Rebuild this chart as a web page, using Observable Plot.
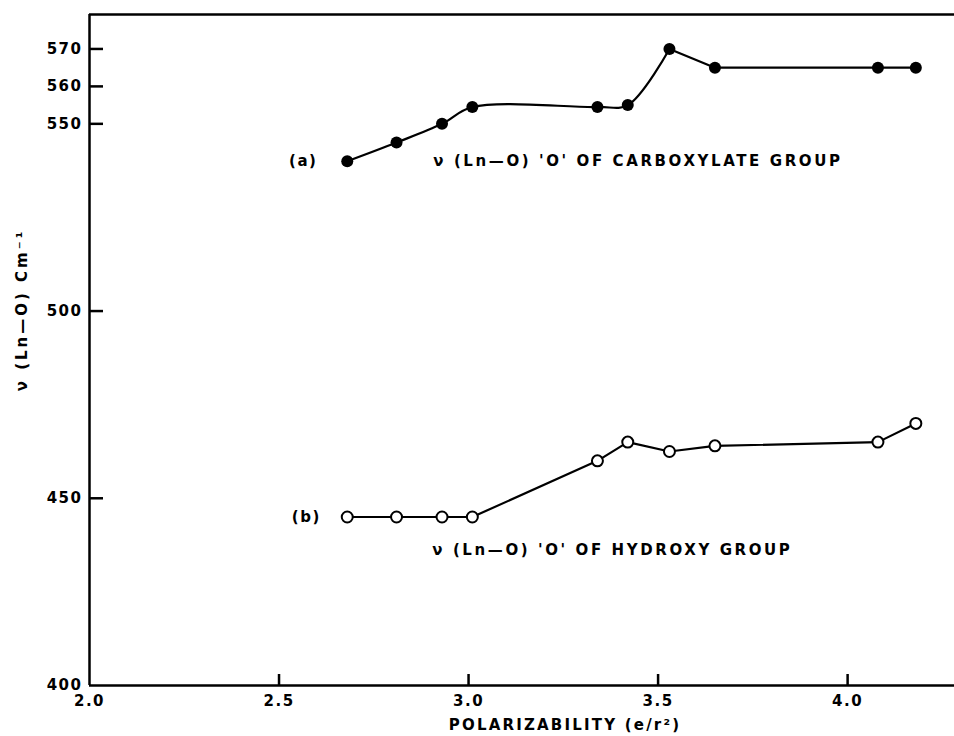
<!DOCTYPE html>
<html><head><meta charset="utf-8">
<script src="https://cdn.jsdelivr.net/npm/d3@7"></script>
<script src="https://cdn.jsdelivr.net/npm/@observablehq/plot@0.6"></script>
<style>
body{margin:0;background:#fff}
#chart svg{display:block;background:#fff}
#chart svg text{letter-spacing:1.5px}
</style>
</head><body><div id="chart"></div>
<script>
// Data
const polarizability = [2.68, 2.81, 2.93, 3.01, 3.34, 3.42, 3.53, 3.65, 4.08, 4.18];
const carboxylate = [540, 545, 550, 554.5, 554.5, 555, 570, 565, 565, 565];
const hydroxy = [445, 445, 445, 445, 460, 465, 462.5, 464, 465, 470];
const xTicks = [2.0, 2.5, 3.0, 3.5, 4.0];
const yTicks = [400, 450, 500, 550, 560, 570];
const xDomain = [2.0, 4.282];
const yDomain = [400, 579.2];
const seriesLabels = ["(a)", "(b)"];
const seriesTitles = ["ν (Ln—O) 'O' OF CARBOXYLATE GROUP", "ν (Ln—O) 'O' OF HYDROXY GROUP"];
const xLabel = "POLARIZABILITY (e/r²)";
const yLabel = "ν (Ln—O) Cm⁻¹";

const a = polarizability.map((x, i) => ({x, y: carboxylate[i]}));
const b = polarizability.map((x, i) => ({x, y: hydroxy[i]}));
const ink = "black";

const W = 954, H = 736, ML = 89, MR = 0, MT = 14, MB = 51;

const plot = Plot.plot({
  width: W, height: H,
  marginLeft: ML, marginRight: MR, marginTop: MT, marginBottom: MB,
  style: {fontFamily: "DejaVu Sans", fontWeight: "bold", fontSize: "15px"},
  x: {domain: xDomain},
  y: {domain: yDomain},
  marks: [
    Plot.ruleY([yDomain[1]], {stroke: ink, strokeWidth: 2.5}),
    Plot.ruleY([yDomain[0]], {stroke: ink, strokeWidth: 2.5}),
    Plot.ruleX([xDomain[0]], {stroke: ink, strokeWidth: 2.5}),
    // inward tick marks
    Plot.axisX({ticks: xTicks.slice(1), anchor: "top", frameAnchor: "bottom", tickSize: 12, tickFormat: () => "", label: null, strokeWidth: 2.5, stroke: ink}),
    Plot.axisY({ticks: yTicks.slice(1), anchor: "right", frameAnchor: "left", tickSize: 13, tickFormat: () => "", label: null, strokeWidth: 2.5, stroke: ink}),
    // tick labels
    Plot.axisX({ticks: xTicks, tickFormat: d3.format(".1f"), tickSize: 0, tickPadding: 10, label: null, fontSize: 15}),
    Plot.axisY({ticks: yTicks, tickSize: 0, tickPadding: 7, label: null, fontSize: 15}),
    Plot.line(a.slice(0, 7), {x: "x", y: "y", curve: "catmull-rom", stroke: ink, strokeWidth: 2.2}),
    Plot.line(a.slice(6), {x: "x", y: "y", stroke: ink, strokeWidth: 2.2}),
    Plot.dot(a, {x: "x", y: "y", r: 6, fill: ink}),
    Plot.line(b, {x: "x", y: "y", stroke: ink, strokeWidth: 2.2}),
    Plot.dot(b, {x: "x", y: "y", r: 5.5, fill: "white", stroke: ink, strokeWidth: 2}),
    Plot.text([a[0]], {x: "x", y: "y", text: () => seriesLabels[0], dx: -44, fontSize: 15}),
    Plot.text([b[0]], {x: "x", y: "y", text: () => seriesLabels[1], dx: -41, fontSize: 15}),
    Plot.text([a[0]], {x: "x", y: "y", text: () => seriesTitles[0], dx: 86, textAnchor: "start", fontSize: 15}),
    Plot.text([b[0]], {x: "x", y: "y", text: () => seriesTitles[1], dx: 85, dy: 33, textAnchor: "start", fontSize: 15}),
    Plot.text([xLabel], {text: d => d, frameAnchor: "bottom", lineAnchor: "middle", dx: 43, dy: 40, fontSize: 15}),
    Plot.text([yLabel], {text: d => d, frameAnchor: "left", textAnchor: "middle", rotate: -90, dx: -67, dy: -40, fontSize: 15})
  ]
});
document.getElementById("chart").append(plot);
const sel = d3.select(plot).selectAll("text");
sel.filter(function () { return seriesTitles.includes(this.textContent); }).style("letter-spacing", "2.6px");
sel.filter(function () { return this.textContent === xLabel; }).style("letter-spacing", "2.2px");
sel.filter(function () { return this.textContent === yLabel; }).style("letter-spacing", "3px");
</script>
</body></html>
